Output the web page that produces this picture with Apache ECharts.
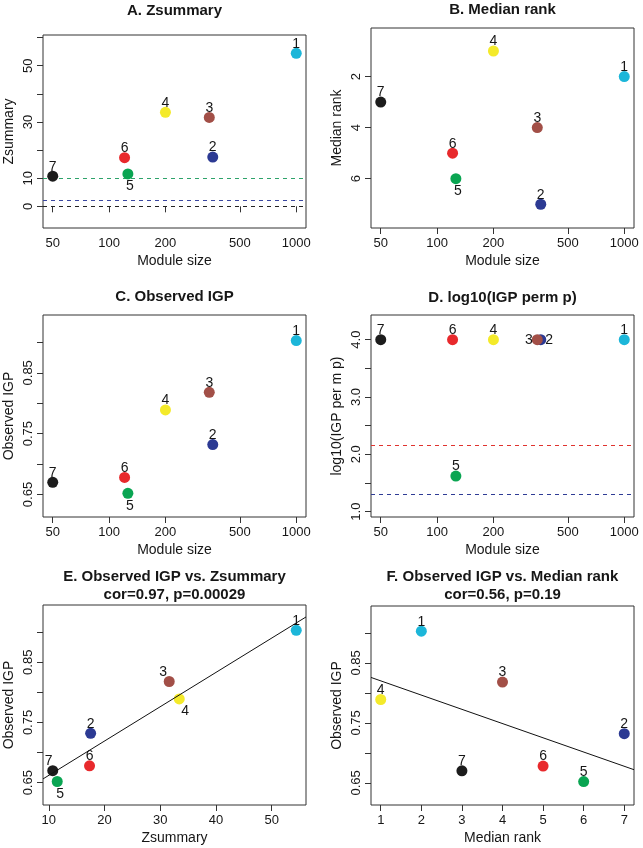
<!DOCTYPE html>
<html>
<head>
<meta charset="utf-8">
<script src="https://cdn.jsdelivr.net/npm/echarts@6/dist/echarts.min.js"></script>
<style>
html,body{margin:0;padding:0;background:#fff;}
#chart{width:643px;height:848px;}
</style>
</head>
<body>
<div id="chart"></div>
<script>
// ---- data ----
const moduleIds = ['1', '2', '3', '4', '5', '6', '7'];
const moduleSize = [1000, 358, 343, 200, 126, 121, 50];
const zsummary = [54.4, 17.5, 31.6, 33.4, 11.5, 17.3, 10.7];
const medianRank = [2, 7, 4, 1, 6, 5, 3];
const observedIGP = [0.903, 0.732, 0.818, 0.789, 0.652, 0.678, 0.670];
const log10PermP = [4.0, 4.0, 4.0, 4.0, 1.62, 4.0, 4.0];
const moduleColors = ['#1cb6d9', '#2c3a93', '#a24f47', '#f4ea2a', '#0aa552', '#e8292c', '#1c1c1c'];

const sizeTicks = [50, 100, 200, 500, 1000];
const zsumTicks = [0, 10, 20, 30, 40, 50, 60];
const zsumLabels = [0, 10, 30, 50];
const rankTicks = [2, 4, 6];
const igpTicks = [0.65, 0.70, 0.75, 0.80, 0.85, 0.90];
const igpLabels = [0.65, 0.75, 0.85];
const permTicks = [1.0, 1.5, 2.0, 2.5, 3.0, 3.5, 4.0];
const permLabels = [1.0, 2.0, 3.0, 4.0];
const zsumXTicks = [10, 20, 30, 40, 50];
const rankXTicks = [1, 2, 3, 4, 5, 6, 7];

const zsumThresholds = [10, 2, 0];
const zsumThresholdColors = ['#2ea36a', '#3a47a0', '#222222'];
const permThresholds = [2.146, 1.301];
const permThresholdColors = ['#e0332f', '#2f3c95'];

const titles = [
  'A. Zsummary',
  'B. Median rank',
  'C. Observed IGP',
  'D. log10(IGP perm p)',
  'E. Observed IGP vs. Zsummary\ncor=0.97, p=0.00029',
  'F. Observed IGP vs. Median rank\ncor=0.56, p=0.19'
];

// ---- style / layout ----
const FONT = '"Liberation Sans", Arial, Helvetica, sans-serif';
const INK = '#161616';
const grids = [
  {left: 43, top: 35, width: 263, height: 193},
  {left: 371, top: 28, width: 263, height: 200},
  {left: 43, top: 315, width: 263, height: 202},
  {left: 371, top: 315, width: 263, height: 202},
  {left: 43, top: 605, width: 263, height: 200},
  {left: 371, top: 606, width: 263, height: 199}
];
const titleTops = [2, 1, 288, 289, 568, 568];

// label placement per panel (position, offset)
const T = {position: 'top', offset: [0, 4]};
const B = {position: 'bottom', offset: [2, -1]};
const labelPlacement = [
  [T, T, T, T, B, T, T],
  [T, T, T, T, B, T, T],
  [T, T, T, T, B, T, T],
  [T, {position: 'right', offset: [-2, 0]}, {position: 'left', offset: [2, 0]}, T, T, T, T],
  [T, T, {position: 'top', offset: [-6, 4]}, {position: 'bottom', offset: [6, -1]}, {position: 'bottom', offset: [3, -1]}, T, {position: 'top', offset: [-4, 4]}],
  [T, T, T, T, T, T, T]
];

const log10 = v => Math.log10(v);
const sizeFmt = v => String(Math.round(Math.pow(10, v)));

function xAxisCfg(i, min, max, ticks, labels, fmt) {
  return {
    type: 'value', gridIndex: i, min: min, max: max,
    name: 'Module size', nameLocation: 'middle', nameGap: 26,
    nameTextStyle: {fontSize: 14, color: INK, fontFamily: FONT},
    axisLine: {show: false},
    splitLine: {show: false},
    axisTick: {show: true, inside: false, length: 6, customValues: ticks, lineStyle: {color: '#333', width: 1}},
    axisLabel: {customValues: labels, formatter: fmt, fontSize: 13, color: INK, fontFamily: FONT, margin: 9}
  };
}
function yAxisCfg(i, min, max, ticks, labels, fmt, name, inverse) {
  return {
    type: 'value', gridIndex: i, min: min, max: max, inverse: !!inverse,
    name: name, nameLocation: 'middle', nameGap: 27,
    nameTextStyle: {fontSize: 14, color: INK, fontFamily: FONT},
    axisLine: {show: false},
    splitLine: {show: false},
    axisTick: {show: true, inside: false, length: 6, customValues: ticks, lineStyle: {color: '#333', width: 1}},
    axisLabel: {customValues: labels, formatter: fmt, rotate: 90, fontSize: 13, color: INK, fontFamily: FONT, margin: 8}
  };
}

const logMin = log10(50) - 0.04 * (log10(1000) - log10(50));
const logMax = log10(1000) + 0.04 * (log10(1000) - log10(50));
const sizeTickVals = sizeTicks.map(log10);

const xAxes = [
  xAxisCfg(0, logMin, logMax, sizeTickVals, sizeTickVals, sizeFmt),
  xAxisCfg(1, logMin, logMax, sizeTickVals, sizeTickVals, sizeFmt),
  xAxisCfg(2, logMin, logMax, sizeTickVals, sizeTickVals, sizeFmt),
  xAxisCfg(3, logMin, logMax, sizeTickVals, sizeTickVals, sizeFmt),
  Object.assign(xAxisCfg(4, 8.95, 56.15, zsumXTicks, zsumXTicks, v => String(v)), {name: 'Zsummary'}),
  Object.assign(xAxisCfg(5, 0.76, 7.24, rankXTicks, rankXTicks, v => String(v)), {name: 'Median rank'})
];
const f2 = v => v.toFixed(2);
const f1 = v => v.toFixed(1);
const yAxes = [
  yAxisCfg(0, -7.7, 60.9, zsumTicks, zsumLabels, v => String(v), 'Zsummary'),
  yAxisCfg(1, 0.1, 7.93, rankTicks, rankTicks, v => String(v), 'Median rank', true),
  yAxisCfg(2, 0.613, 0.945, igpTicks, igpLabels, f2, 'Observed IGP'),
  yAxisCfg(3, 0.907, 4.43, permTicks, permLabels, f1, 'log10(IGP per m p)'),
  yAxisCfg(4, 0.613, 0.945, igpTicks, igpLabels, f2, 'Observed IGP'),
  yAxisCfg(5, 0.613, 0.945, igpTicks, igpLabels, f2, 'Observed IGP')
];

function pointSeries(i, xs, ys, extra) {
  const s = {
    type: 'scatter', xAxisIndex: i, yAxisIndex: i, symbol: 'circle', symbolSize: 11, z: 3,
    data: xs.map((x, k) => ({
      value: [x, ys[k]],
      itemStyle: {color: moduleColors[k], opacity: 1},
      label: Object.assign({show: true, formatter: moduleIds[k], fontSize: 14, color: INK, fontFamily: FONT, distance: 1}, labelPlacement[i][k])
    })),
    emphasis: {disabled: true}
  };
  return Object.assign(s, extra || {});
}
function thresholdLines(vals, cols) {
  return {
    silent: true, symbol: 'none', animation: false,
    label: {show: false},
    data: vals.map((v, k) => ({yAxis: v, lineStyle: {color: cols[k], type: [4, 4], width: 1}}))
  };
}
function fitLine(i, xs, ys, xmin, xmax) {
  const n = xs.length;
  const mx = xs.reduce((a, b) => a + b, 0) / n;
  const my = ys.reduce((a, b) => a + b, 0) / n;
  let sxy = 0, sxx = 0;
  for (let k = 0; k < n; k++) { sxy += (xs[k] - mx) * (ys[k] - my); sxx += (xs[k] - mx) * (xs[k] - mx); }
  const b = sxy / sxx, a = my - b * mx;
  return {
    type: 'line', xAxisIndex: i, yAxisIndex: i, showSymbol: false, symbol: 'none', z: 4, clip: true,
    lineStyle: {color: '#111', width: 1}, silent: true,
    data: [[xmin, a + b * xmin], [xmax, a + b * xmax]]
  };
}

const sizeLog = moduleSize.map(log10);
const series = [
  pointSeries(0, sizeLog, zsummary, {markLine: thresholdLines(zsumThresholds, zsumThresholdColors)}),
  pointSeries(1, sizeLog, medianRank),
  pointSeries(2, sizeLog, observedIGP),
  pointSeries(3, sizeLog, log10PermP, {markLine: thresholdLines(permThresholds, permThresholdColors)}),
  pointSeries(4, zsummary, observedIGP),
  pointSeries(5, medianRank, observedIGP),
  fitLine(4, zsummary, observedIGP, 8.95, 56.15),
  fitLine(5, medianRank, observedIGP, 0.76, 7.24)
];
series[0].markLine.z = 2; series[3].markLine.z = 2;

const option = {
  animation: false,
  backgroundColor: '#ffffff',
  title: titles.map((t, i) => ({
    text: t, left: grids[i].left + grids[i].width / 2, top: titleTops[i], textAlign: 'center', padding: 0,
    textStyle: {fontSize: 15, fontWeight: 'bold', color: INK, fontFamily: FONT, lineHeight: 18}
  })),
  grid: grids.map(g => Object.assign({show: true, borderColor: '#333', borderWidth: 1, backgroundColor: 'transparent', containLabel: false}, g)),
  xAxis: xAxes,
  yAxis: yAxes,
  series: series
};

const chart = echarts.init(document.getElementById('chart'), null, {renderer: 'canvas'});
chart.setOption(option);
</script>
</body>
</html>
